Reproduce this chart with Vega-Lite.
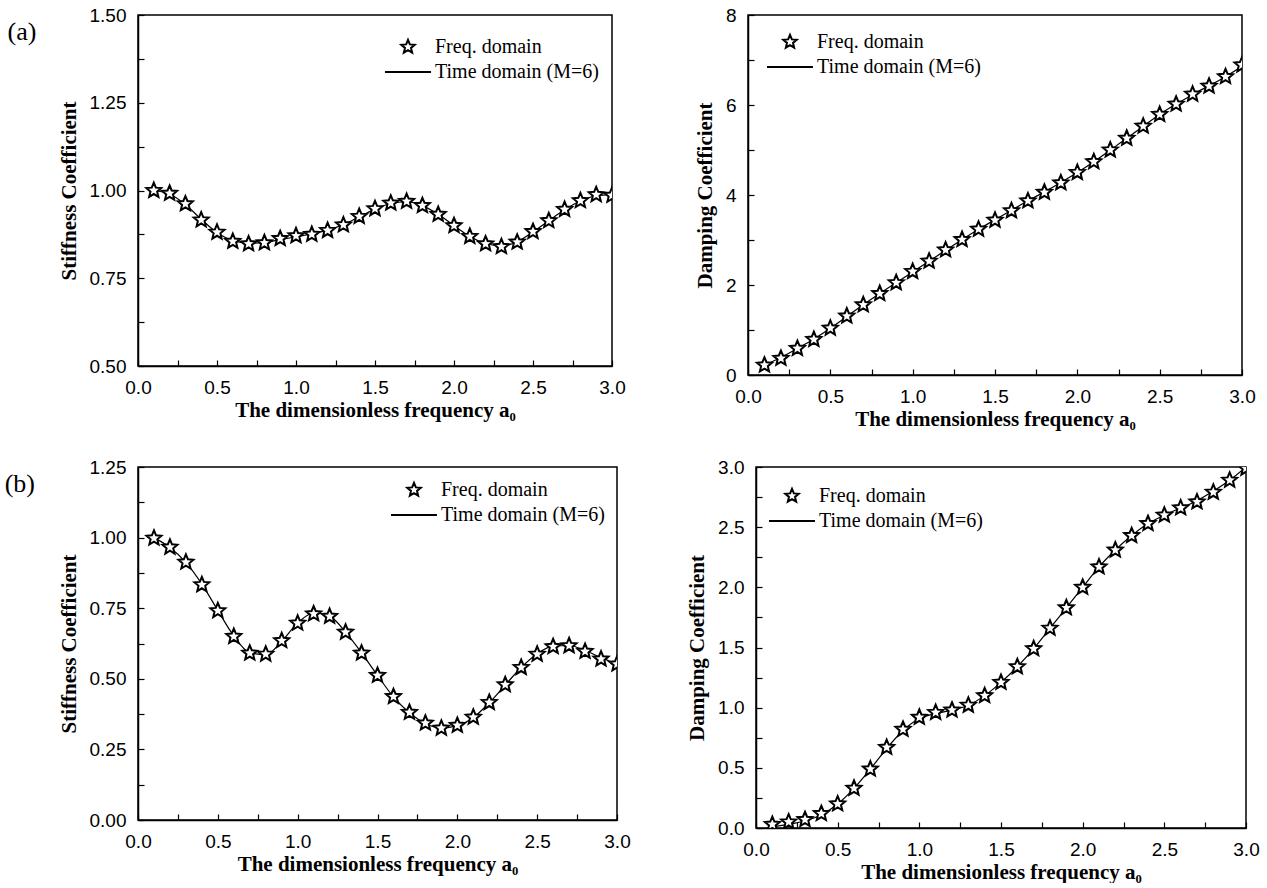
{
  "$schema": "https://vega.github.io/schema/vega-lite/v6.json",
  "padding": {"left": 4, "top": 5, "right": 0, "bottom": 0},
  "background": "white",
  "datasets": {
    "aStiff": [
      {"a0":0.1,"freq":1.000,"time":1.000},{"a0":0.2,"freq":0.992,"time":0.990},{"a0":0.3,"freq":0.962,"time":0.960},{"a0":0.4,"freq":0.916,"time":0.918},{"a0":0.5,"freq":0.881,"time":0.880},
      {"a0":0.6,"freq":0.855,"time":0.857},{"a0":0.7,"freq":0.848,"time":0.850},{"a0":0.8,"freq":0.851,"time":0.852},{"a0":0.9,"freq":0.863,"time":0.860},{"a0":1.0,"freq":0.871,"time":0.868},
      {"a0":1.1,"freq":0.875,"time":0.876},{"a0":1.2,"freq":0.886,"time":0.887},{"a0":1.3,"freq":0.902,"time":0.903},{"a0":1.4,"freq":0.926,"time":0.925},{"a0":1.5,"freq":0.948,"time":0.947},
      {"a0":1.6,"freq":0.964,"time":0.963},{"a0":1.7,"freq":0.969,"time":0.968},{"a0":1.8,"freq":0.957,"time":0.957},{"a0":1.9,"freq":0.932,"time":0.932},{"a0":2.0,"freq":0.900,"time":0.900},
      {"a0":2.1,"freq":0.869,"time":0.869},{"a0":2.2,"freq":0.848,"time":0.849},{"a0":2.3,"freq":0.840,"time":0.842},{"a0":2.4,"freq":0.853,"time":0.854},{"a0":2.5,"freq":0.883,"time":0.882},
      {"a0":2.6,"freq":0.914,"time":0.914},{"a0":2.7,"freq":0.946,"time":0.945},{"a0":2.8,"freq":0.971,"time":0.970},{"a0":2.9,"freq":0.988,"time":0.985},{"a0":3.0,"freq":0.986,"time":0.988}
    ],
    "aDamp": [
      {"a0":0.1,"freq":0.22,"time":0.22},{"a0":0.2,"freq":0.37,"time":0.39},{"a0":0.3,"freq":0.59,"time":0.59},{"a0":0.4,"freq":0.79,"time":0.80},{"a0":0.5,"freq":1.04,"time":1.04},
      {"a0":0.6,"freq":1.31,"time":1.30},{"a0":0.7,"freq":1.56,"time":1.56},{"a0":0.8,"freq":1.81,"time":1.81},{"a0":0.9,"freq":2.05,"time":2.05},{"a0":1.0,"freq":2.30,"time":2.29},
      {"a0":1.1,"freq":2.53,"time":2.53},{"a0":1.2,"freq":2.78,"time":2.77},{"a0":1.3,"freq":3.01,"time":3.01},{"a0":1.4,"freq":3.24,"time":3.24},{"a0":1.5,"freq":3.44,"time":3.45},
      {"a0":1.6,"freq":3.65,"time":3.66},{"a0":1.7,"freq":3.87,"time":3.87},{"a0":1.8,"freq":4.06,"time":4.07},{"a0":1.9,"freq":4.27,"time":4.28},{"a0":2.0,"freq":4.50,"time":4.50},
      {"a0":2.1,"freq":4.74,"time":4.74},{"a0":2.2,"freq":5.00,"time":5.00},{"a0":2.3,"freq":5.26,"time":5.26},{"a0":2.4,"freq":5.53,"time":5.53},{"a0":2.5,"freq":5.79,"time":5.79},
      {"a0":2.6,"freq":6.02,"time":6.02},{"a0":2.7,"freq":6.24,"time":6.23},{"a0":2.8,"freq":6.42,"time":6.43},{"a0":2.9,"freq":6.63,"time":6.63},{"a0":3.0,"freq":6.89,"time":6.86}
    ],
    "bStiff": [
      {"a0":0.1,"freq":0.998,"time":1.000},{"a0":0.2,"freq":0.966,"time":0.965},{"a0":0.3,"freq":0.913,"time":0.912},{"a0":0.4,"freq":0.833,"time":0.835},{"a0":0.5,"freq":0.741,"time":0.742},
      {"a0":0.6,"freq":0.650,"time":0.652},{"a0":0.7,"freq":0.591,"time":0.592},{"a0":0.8,"freq":0.587,"time":0.585},{"a0":0.9,"freq":0.635,"time":0.633},{"a0":1.0,"freq":0.697,"time":0.698},
      {"a0":1.1,"freq":0.730,"time":0.733},{"a0":1.2,"freq":0.721,"time":0.722},{"a0":1.3,"freq":0.665,"time":0.665},{"a0":1.4,"freq":0.591,"time":0.592},{"a0":1.5,"freq":0.512,"time":0.512},
      {"a0":1.6,"freq":0.437,"time":0.436},{"a0":1.7,"freq":0.381,"time":0.380},{"a0":1.8,"freq":0.343,"time":0.342},{"a0":1.9,"freq":0.325,"time":0.326},{"a0":2.0,"freq":0.335,"time":0.334},
      {"a0":2.1,"freq":0.364,"time":0.363},{"a0":2.2,"freq":0.416,"time":0.415},{"a0":2.3,"freq":0.479,"time":0.478},{"a0":2.4,"freq":0.540,"time":0.540},{"a0":2.5,"freq":0.587,"time":0.589},
      {"a0":2.6,"freq":0.614,"time":0.616},{"a0":2.7,"freq":0.617,"time":0.618},{"a0":2.8,"freq":0.597,"time":0.600},{"a0":2.9,"freq":0.570,"time":0.575},{"a0":3.0,"freq":0.552,"time":0.552}
    ],
    "bDamp": [
      {"a0":0.1,"freq":0.03,"time":0.01},{"a0":0.2,"freq":0.05,"time":0.03},{"a0":0.3,"freq":0.07,"time":0.06},{"a0":0.4,"freq":0.12,"time":0.11},{"a0":0.5,"freq":0.20,"time":0.20},
      {"a0":0.6,"freq":0.33,"time":0.33},{"a0":0.7,"freq":0.49,"time":0.49},{"a0":0.8,"freq":0.67,"time":0.66},{"a0":0.9,"freq":0.82,"time":0.81},{"a0":1.0,"freq":0.92,"time":0.91},
      {"a0":1.1,"freq":0.96,"time":0.95},{"a0":1.2,"freq":0.98,"time":0.98},{"a0":1.3,"freq":1.02,"time":1.02},{"a0":1.4,"freq":1.10,"time":1.10},{"a0":1.5,"freq":1.21,"time":1.21},
      {"a0":1.6,"freq":1.34,"time":1.34},{"a0":1.7,"freq":1.49,"time":1.49},{"a0":1.8,"freq":1.66,"time":1.66},{"a0":1.9,"freq":1.83,"time":1.83},{"a0":2.0,"freq":2.00,"time":2.00},
      {"a0":2.1,"freq":2.17,"time":2.17},{"a0":2.2,"freq":2.31,"time":2.31},{"a0":2.3,"freq":2.43,"time":2.43},{"a0":2.4,"freq":2.53,"time":2.53},{"a0":2.5,"freq":2.60,"time":2.60},
      {"a0":2.6,"freq":2.66,"time":2.66},{"a0":2.7,"freq":2.71,"time":2.72},{"a0":2.8,"freq":2.79,"time":2.80},{"a0":2.9,"freq":2.89,"time":2.89},{"a0":3.0,"freq":2.99,"time":3.00}
    ]
  },
  "vconcat": [
    {
      "title": {"text": "(a)", "orient": "left", "anchor": "end", "angle": 0, "align": "right", "baseline": "top", "offset": -8, "dy": 14},
      "spacing": 67,
      "resolve": {"scale": {"x": "independent", "y": "independent", "shape": "independent"}, "legend": {"shape": "independent"}},
      "hconcat": [
        {
          "width": 474, "height": 351,
          "data": {"name": "aStiff"},
          "encoding": {
            "x": {"field": "a0", "type": "quantitative", "scale": {"domain": [0, 3], "nice": false, "zero": false},
              "axis": {"title": "The dimensionless frequency a₀", "values": [0,0.25,0.5,0.75,1,1.25,1.5,1.75,2,2.25,2.5,2.75,3], "labelExpr": "abs(datum.value*2 - round(datum.value*2)) < 0.001 ? format(datum.value, '.1f') : ''"}}
          },
          "layer": [
            {
              "mark": {"type": "line", "color": "black", "strokeWidth": 1.2, "interpolate": "monotone", "clip": true},
              "encoding": {"y": {"field": "time", "type": "quantitative", "scale": {"domain": [0.5, 1.5], "nice": false, "zero": false},
                "axis": {"title": "Stiffness Coefficient", "values": [0.5,0.625,0.75,0.875,1,1.125,1.25,1.375,1.5], "labelExpr": "abs(datum.value*4 - round(datum.value*4)) < 0.001 ? format(datum.value, '.2f') : ''"}}}
            },
            {
              "mark": {"type": "point", "filled": true, "fill": "white", "stroke": "black", "strokeWidth": 2, "size": 245, "opacity": 1, "clip": true},
              "encoding": {
                "y": {"field": "freq", "type": "quantitative", "scale": {"domain": [0.5, 1.5], "nice": false, "zero": false},
                  "axis": {"title": "Stiffness Coefficient", "values": [0.5,0.625,0.75,0.875,1,1.125,1.25,1.375,1.5], "labelExpr": "abs(datum.value*4 - round(datum.value*4)) < 0.001 ? format(datum.value, '.2f') : ''"}},
                "shape": {"datum": "Freq. domain", "type": "nominal",
                  "scale": {"domain": ["Freq. domain", "Time domain (M=6)"], "range": ["M0,-1L0.265,-0.364L0.951,-0.309L0.428,0.139L0.588,0.809L0,0.45L-0.588,0.809L-0.428,0.139L-0.951,-0.309L-0.265,-0.364Z", "M-3.25,0L3.25,0"]},
                  "legend": {"legendX": 260, "legendY": 22}}
              }
            }
          ]
        },
        {
          "width": 494, "height": 360,
          "data": {"name": "aDamp"},
          "encoding": {
            "x": {"field": "a0", "type": "quantitative", "scale": {"domain": [0, 3], "nice": false, "zero": false},
              "axis": {"title": "The dimensionless frequency a₀", "values": [0,0.25,0.5,0.75,1,1.25,1.5,1.75,2,2.25,2.5,2.75,3], "labelExpr": "abs(datum.value*2 - round(datum.value*2)) < 0.001 ? format(datum.value, '.1f') : ''"}}
          },
          "layer": [
            {
              "mark": {"type": "line", "color": "black", "strokeWidth": 1.2, "interpolate": "monotone", "clip": true},
              "encoding": {"y": {"field": "time", "type": "quantitative", "scale": {"domain": [0, 8], "nice": false, "zero": false},
                "axis": {"title": "Damping Coefficient", "values": [0,1,2,3,4,5,6,7,8], "labelExpr": "datum.value % 2 === 0 ? format(datum.value, 'd') : ''"}}}
            },
            {
              "mark": {"type": "point", "filled": true, "fill": "white", "stroke": "black", "strokeWidth": 2, "size": 245, "opacity": 1, "clip": true},
              "encoding": {
                "y": {"field": "freq", "type": "quantitative", "scale": {"domain": [0, 8], "nice": false, "zero": false},
                  "axis": {"title": "Damping Coefficient", "values": [0,1,2,3,4,5,6,7,8], "labelExpr": "datum.value % 2 === 0 ? format(datum.value, 'd') : ''"}},
                "shape": {"datum": "Freq. domain", "type": "nominal",
                  "scale": {"domain": ["Freq. domain", "Time domain (M=6)"], "range": ["M0,-1L0.265,-0.364L0.951,-0.309L0.428,0.139L0.588,0.809L0,0.45L-0.588,0.809L-0.428,0.139L-0.951,-0.309L-0.265,-0.364Z", "M-3.25,0L3.25,0"]},
                  "legend": {"legendX": 32, "legendY": 17}}
              }
            }
          ]
        }
      ]
    },
    {
      "title": {"text": "(b)", "orient": "left", "anchor": "end", "angle": 0, "align": "right", "baseline": "top", "offset": -8, "dy": 14},
      "spacing": 54,
      "resolve": {"scale": {"x": "independent", "y": "independent", "shape": "independent"}, "legend": {"shape": "independent"}},
      "hconcat": [
        {
          "width": 479, "height": 353,
          "data": {"name": "bStiff"},
          "encoding": {
            "x": {"field": "a0", "type": "quantitative", "scale": {"domain": [0, 3], "nice": false, "zero": false},
              "axis": {"title": "The dimensionless frequency a₀", "values": [0,0.25,0.5,0.75,1,1.25,1.5,1.75,2,2.25,2.5,2.75,3], "labelExpr": "abs(datum.value*2 - round(datum.value*2)) < 0.001 ? format(datum.value, '.1f') : ''"}}
          },
          "layer": [
            {
              "mark": {"type": "line", "color": "black", "strokeWidth": 1.2, "interpolate": "monotone", "clip": true},
              "encoding": {"y": {"field": "time", "type": "quantitative", "scale": {"domain": [0, 1.25], "nice": false, "zero": false},
                "axis": {"title": "Stiffness Coefficient", "values": [0,0.125,0.25,0.375,0.5,0.625,0.75,0.875,1,1.125,1.25], "labelExpr": "abs(datum.value*4 - round(datum.value*4)) < 0.001 ? format(datum.value, '.2f') : ''"}}}
            },
            {
              "mark": {"type": "point", "filled": true, "fill": "white", "stroke": "black", "strokeWidth": 2, "size": 245, "opacity": 1, "clip": true},
              "encoding": {
                "y": {"field": "freq", "type": "quantitative", "scale": {"domain": [0, 1.25], "nice": false, "zero": false},
                  "axis": {"title": "Stiffness Coefficient", "values": [0,0.125,0.25,0.375,0.5,0.625,0.75,0.875,1,1.125,1.25], "labelExpr": "abs(datum.value*4 - round(datum.value*4)) < 0.001 ? format(datum.value, '.2f') : ''"}},
                "shape": {"datum": "Freq. domain", "type": "nominal",
                  "scale": {"domain": ["Freq. domain", "Time domain (M=6)"], "range": ["M0,-1L0.265,-0.364L0.951,-0.309L0.428,0.139L0.588,0.809L0,0.45L-0.588,0.809L-0.428,0.139L-0.951,-0.309L-0.265,-0.364Z", "M-3.25,0L3.25,0"]},
                  "legend": {"legendX": 266, "legendY": 13}}
              }
            }
          ]
        },
        {
          "width": 490, "height": 361,
          "data": {"name": "bDamp"},
          "encoding": {
            "x": {"field": "a0", "type": "quantitative", "scale": {"domain": [0, 3], "nice": false, "zero": false},
              "axis": {"title": "The dimensionless frequency a₀", "values": [0,0.25,0.5,0.75,1,1.25,1.5,1.75,2,2.25,2.5,2.75,3], "labelExpr": "abs(datum.value*2 - round(datum.value*2)) < 0.001 ? format(datum.value, '.1f') : ''"}}
          },
          "layer": [
            {
              "mark": {"type": "line", "color": "black", "strokeWidth": 1.2, "interpolate": "monotone", "clip": true},
              "encoding": {"y": {"field": "time", "type": "quantitative", "scale": {"domain": [0, 3], "nice": false, "zero": false},
                "axis": {"title": "Damping Coefficient", "values": [0,0.25,0.5,0.75,1,1.25,1.5,1.75,2,2.25,2.5,2.75,3], "labelExpr": "abs(datum.value*2 - round(datum.value*2)) < 0.001 ? format(datum.value, '.1f') : ''"}}}
            },
            {
              "mark": {"type": "point", "filled": true, "fill": "white", "stroke": "black", "strokeWidth": 2, "size": 245, "opacity": 1, "clip": true},
              "encoding": {
                "y": {"field": "freq", "type": "quantitative", "scale": {"domain": [0, 3], "nice": false, "zero": false},
                  "axis": {"title": "Damping Coefficient", "values": [0,0.25,0.5,0.75,1,1.25,1.5,1.75,2,2.25,2.5,2.75,3], "labelExpr": "abs(datum.value*2 - round(datum.value*2)) < 0.001 ? format(datum.value, '.1f') : ''"}},
                "shape": {"datum": "Freq. domain", "type": "nominal",
                  "scale": {"domain": ["Freq. domain", "Time domain (M=6)"], "range": ["M0,-1L0.265,-0.364L0.951,-0.309L0.428,0.139L0.588,0.809L0,0.45L-0.588,0.809L-0.428,0.139L-0.951,-0.309L-0.265,-0.364Z", "M-3.25,0L3.25,0"]},
                  "legend": {"legendX": 26, "legendY": 19}}
              }
            }
          ]
        }
      ]
    }
  ],
  "spacing": 27,
  "resolve": {"scale": {"shape": "independent"}, "legend": {"shape": "independent"}},
  "config": {
    "view": {"stroke": "black", "strokeWidth": 1.5},
    "axis": {
      "grid": false, "domainColor": "black", "domainWidth": 1.5,
      "tickColor": "black", "tickWidth": 1.2, "tickSize": -6,
      "labelFont": "Liberation Sans", "labelFontSize": 19, "labelColor": "black",
      "labelFlush": false, "labelOverlap": false,
      "titleFont": "Liberation Serif", "titleFontSize": 21, "titleFontWeight": "bold", "titleColor": "black"
    },
    "axisX": {"titlePadding": 2, "labelPadding": 18},
    "axisY": {"titlePadding": 10, "labelPadding": 18},
    "legend": {
      "orient": "none", "title": null, "direction": "vertical", "padding": 0,
      "symbolSize": 200, "symbolStrokeWidth": 2,
      "labelFont": "Liberation Serif", "labelFontSize": 20, "labelColor": "black", "labelOffset": 17, "labelLimit": 400, "rowPadding": 5
    },
    "title": {"font": "Liberation Serif", "fontSize": 26, "fontWeight": "normal", "color": "black"}
  }
}
